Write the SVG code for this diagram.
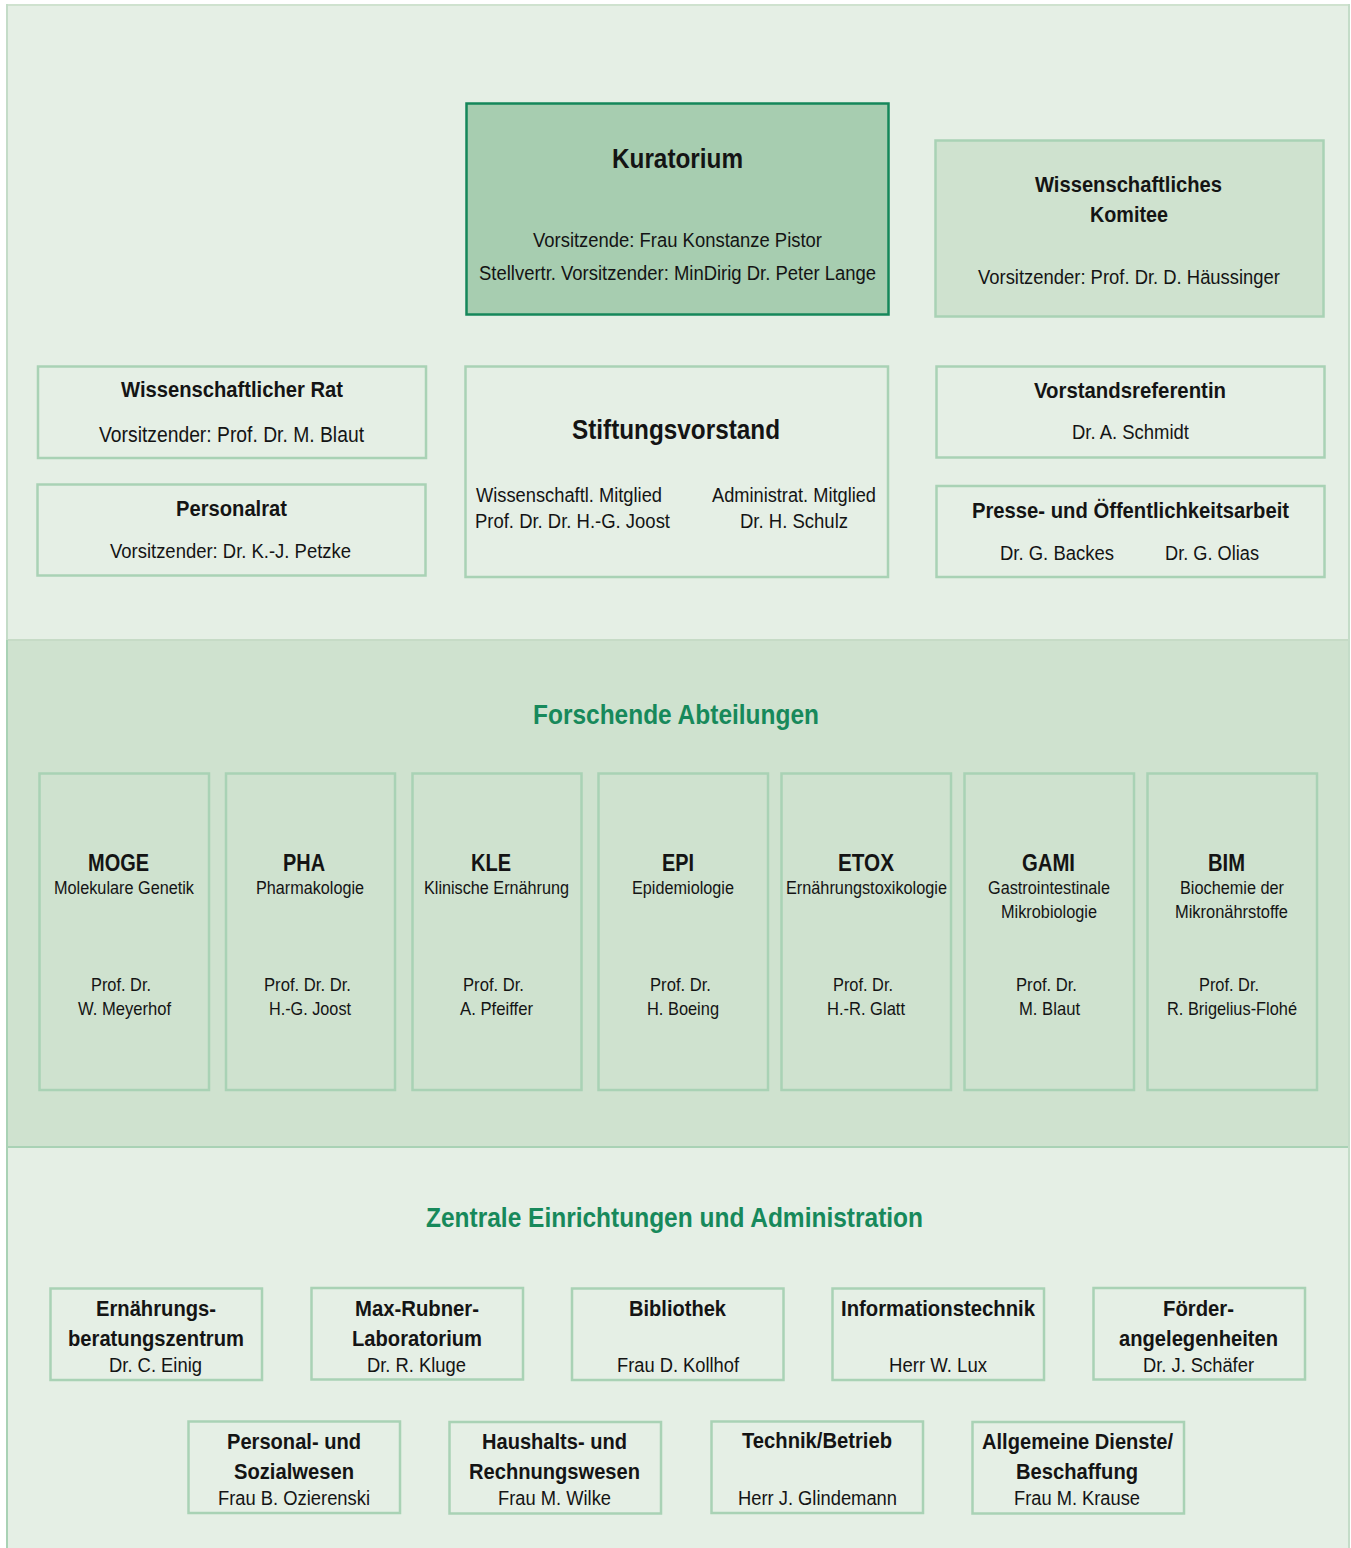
<svg xmlns="http://www.w3.org/2000/svg" width="1351" height="1548" viewBox="0 0 1351 1548">
<style>
  text { font-family: "Liberation Sans", Arial, sans-serif; fill: #141414; }
  .b { font-weight: bold; }
  .g { fill: #17895b; font-weight: bold; }
  .box { fill: none; stroke: #a9d2b5; stroke-width: 2.5; }
  .rbox { fill: none; stroke: #a9d2b5; stroke-width: 2.5; }
</style>
<rect x="0" y="0" width="1351" height="1548" fill="#ffffff"/>
<!-- sections -->
<rect x="6" y="4" width="1344" height="636" fill="#e5efe5"/>
<rect x="6" y="640" width="1344" height="507" fill="#cfe2cf"/>
<rect x="6" y="1147" width="1344" height="401" fill="#e5efe5"/>
<line x1="6" y1="640" x2="1350" y2="640" stroke="#c6dbc6" stroke-width="2"/>
<line x1="6" y1="1147" x2="1350" y2="1147" stroke="#a9d2b5" stroke-width="2"/>
<line x1="6" y1="5" x2="1350" y2="5" stroke="#cfe2cf" stroke-width="2"/>
<line x1="7" y1="4" x2="7" y2="1548" stroke="#c4dcc8" stroke-width="2"/>
<line x1="7" y1="640" x2="7" y2="1548" stroke="#a9d2b5" stroke-width="2"/>
<line x1="1349" y1="4" x2="1349" y2="1548" stroke="#c4dcc8" stroke-width="2"/>

<g id="kuratorium">
  <rect x="466.5" y="103.5" width="422" height="211" fill="#a7cdb0" stroke="#15875a" stroke-width="2.5"/>
  <text class="b" x="612" y="168" font-size="27" textLength="131" lengthAdjust="spacingAndGlyphs">Kuratorium</text>
  <text x="533" y="247" font-size="20" textLength="289" lengthAdjust="spacingAndGlyphs">Vorsitzende: Frau Konstanze Pistor</text>
  <text x="479" y="280" font-size="20" textLength="397" lengthAdjust="spacingAndGlyphs">Stellvertr. Vorsitzender: MinDirig Dr. Peter Lange</text>
</g>

<g id="komitee">
  <rect x="935.5" y="140.5" width="388" height="176" fill="#cfe2cf" stroke="#a9d2b5" stroke-width="2.5"/>
  <text class="b" x="1035" y="192" font-size="22" textLength="187" lengthAdjust="spacingAndGlyphs">Wissenschaftliches</text>
  <text class="b" x="1090" y="222" font-size="22" textLength="78" lengthAdjust="spacingAndGlyphs">Komitee</text>
  <text x="978" y="284" font-size="20" textLength="302" lengthAdjust="spacingAndGlyphs">Vorsitzender: Prof. Dr. D. Häussinger</text>
</g>

<g id="wiss-rat">
  <rect class="box" x="38" y="366.5" width="388" height="91.5"/>
  <text class="b" x="121" y="397" font-size="22" textLength="222" lengthAdjust="spacingAndGlyphs">Wissenschaftlicher Rat</text>
  <text x="99" y="442" font-size="22" textLength="265" lengthAdjust="spacingAndGlyphs">Vorsitzender: Prof. Dr. M. Blaut</text>
</g>

<g id="personalrat">
  <rect class="box" x="37.5" y="484.5" width="388" height="91"/>
  <text class="b" x="176" y="516" font-size="22" textLength="111" lengthAdjust="spacingAndGlyphs">Personalrat</text>
  <text x="110" y="558" font-size="20" textLength="241" lengthAdjust="spacingAndGlyphs">Vorsitzender: Dr. K.-J. Petzke</text>
</g>

<g id="stiftungsvorstand">
  <rect class="box" x="465.5" y="366.5" width="422.5" height="210.5"/>
  <text class="b" x="572" y="439" font-size="27" textLength="208" lengthAdjust="spacingAndGlyphs">Stiftungsvorstand</text>
  <text x="476" y="502" font-size="20" textLength="186" lengthAdjust="spacingAndGlyphs">Wissenschaftl. Mitglied</text>
  <text x="475" y="528" font-size="20" textLength="195" lengthAdjust="spacingAndGlyphs">Prof. Dr. Dr. H.-G. Joost</text>
  <text x="712" y="502" font-size="20" textLength="164" lengthAdjust="spacingAndGlyphs">Administrat. Mitglied</text>
  <text x="740" y="528" font-size="20" textLength="108" lengthAdjust="spacingAndGlyphs">Dr. H. Schulz</text>
</g>

<g id="vorstandsreferentin">
  <rect class="box" x="936.5" y="366.5" width="388" height="91"/>
  <text class="b" x="1034" y="398" font-size="22" textLength="192" lengthAdjust="spacingAndGlyphs">Vorstandsreferentin</text>
  <text x="1072" y="439" font-size="20" textLength="117" lengthAdjust="spacingAndGlyphs">Dr. A. Schmidt</text>
</g>

<g id="presse">
  <rect class="box" x="936.5" y="486" width="388" height="91"/>
  <text class="b" x="972" y="518" font-size="22" textLength="317" lengthAdjust="spacingAndGlyphs">Presse- und Öffentlichkeitsarbeit</text>
  <text x="1000" y="560" font-size="20" textLength="114" lengthAdjust="spacingAndGlyphs">Dr. G. Backes</text>
  <text x="1165" y="560" font-size="20" textLength="94" lengthAdjust="spacingAndGlyphs">Dr. G. Olias</text>
</g>

<g id="forschende-abteilungen">
  <text class="g" x="533" y="724" font-size="27" textLength="286" lengthAdjust="spacingAndGlyphs">Forschende Abteilungen</text>
</g>

<g id="moge">
  <rect class="rbox" x="39.5" y="773.5" width="169.5" height="316.5"/>
  <text class="b" x="88" y="871" font-size="23" textLength="61" lengthAdjust="spacingAndGlyphs">MOGE</text>
  <text x="54" y="894" font-size="17.5" textLength="140" lengthAdjust="spacingAndGlyphs">Molekulare Genetik</text>
  <text x="91" y="991" font-size="18.5" textLength="60" lengthAdjust="spacingAndGlyphs">Prof. Dr.</text>
  <text x="78" y="1015" font-size="18.5" textLength="93" lengthAdjust="spacingAndGlyphs">W. Meyerhof</text>
</g>
<g id="pha">
  <rect class="rbox" x="226" y="773.5" width="169" height="316.5"/>
  <text class="b" x="283" y="871" font-size="23" textLength="42" lengthAdjust="spacingAndGlyphs">PHA</text>
  <text x="256" y="894" font-size="17.5" textLength="108" lengthAdjust="spacingAndGlyphs">Pharmakologie</text>
  <text x="264" y="991" font-size="18.5" textLength="87" lengthAdjust="spacingAndGlyphs">Prof. Dr. Dr.</text>
  <text x="269" y="1015" font-size="18.5" textLength="82" lengthAdjust="spacingAndGlyphs">H.-G. Joost</text>
</g>
<g id="kle">
  <rect class="rbox" x="412.5" y="773.5" width="169" height="316.5"/>
  <text class="b" x="471" y="871" font-size="23" textLength="40" lengthAdjust="spacingAndGlyphs">KLE</text>
  <text x="424" y="894" font-size="17.5" textLength="145" lengthAdjust="spacingAndGlyphs">Klinische Ernährung</text>
  <text x="463" y="991" font-size="18.5" textLength="61" lengthAdjust="spacingAndGlyphs">Prof. Dr.</text>
  <text x="460" y="1015" font-size="18.5" textLength="73" lengthAdjust="spacingAndGlyphs">A. Pfeiffer</text>
</g>
<g id="epi">
  <rect class="rbox" x="598.5" y="773.5" width="169.5" height="316.5"/>
  <text class="b" x="662" y="871" font-size="23" textLength="32" lengthAdjust="spacingAndGlyphs">EPI</text>
  <text x="632" y="894" font-size="17.5" textLength="102" lengthAdjust="spacingAndGlyphs">Epidemiologie</text>
  <text x="650" y="991" font-size="18.5" textLength="61" lengthAdjust="spacingAndGlyphs">Prof. Dr.</text>
  <text x="647" y="1015" font-size="18.5" textLength="72" lengthAdjust="spacingAndGlyphs">H. Boeing</text>
</g>
<g id="etox">
  <rect class="rbox" x="781.5" y="773.5" width="169.5" height="316.5"/>
  <text class="b" x="838" y="871" font-size="23" textLength="56" lengthAdjust="spacingAndGlyphs">ETOX</text>
  <text x="786" y="894" font-size="17.5" textLength="161" lengthAdjust="spacingAndGlyphs">Ernährungstoxikologie</text>
  <text x="833" y="991" font-size="18.5" textLength="60" lengthAdjust="spacingAndGlyphs">Prof. Dr.</text>
  <text x="827" y="1015" font-size="18.5" textLength="78" lengthAdjust="spacingAndGlyphs">H.-R. Glatt</text>
</g>
<g id="gami">
  <rect class="rbox" x="964.5" y="773.5" width="169.5" height="316.5"/>
  <text class="b" x="1022" y="871" font-size="23" textLength="53" lengthAdjust="spacingAndGlyphs">GAMI</text>
  <text x="988" y="894" font-size="17.5" textLength="122" lengthAdjust="spacingAndGlyphs">Gastrointestinale</text>
  <text x="1001" y="918" font-size="17.5" textLength="96" lengthAdjust="spacingAndGlyphs">Mikrobiologie</text>
  <text x="1016" y="991" font-size="18.5" textLength="61" lengthAdjust="spacingAndGlyphs">Prof. Dr.</text>
  <text x="1019" y="1015" font-size="18.5" textLength="61" lengthAdjust="spacingAndGlyphs">M. Blaut</text>
</g>
<g id="bim">
  <rect class="rbox" x="1147.5" y="773.5" width="169.5" height="316.5"/>
  <text class="b" x="1208" y="871" font-size="23" textLength="37" lengthAdjust="spacingAndGlyphs">BIM</text>
  <text x="1180" y="894" font-size="17.5" textLength="104" lengthAdjust="spacingAndGlyphs">Biochemie der</text>
  <text x="1175" y="918" font-size="17.5" textLength="113" lengthAdjust="spacingAndGlyphs">Mikronährstoffe</text>
  <text x="1199" y="991" font-size="18.5" textLength="60" lengthAdjust="spacingAndGlyphs">Prof. Dr.</text>
  <text x="1167" y="1015" font-size="18.5" textLength="130" lengthAdjust="spacingAndGlyphs">R. Brigelius-Flohé</text>
</g>

<g id="zentrale-einrichtungen">
  <text class="g" x="426" y="1227" font-size="27" textLength="497" lengthAdjust="spacingAndGlyphs">Zentrale Einrichtungen und Administration</text>
</g>

<g id="ernaehrungsberatung">
  <rect class="box" x="50.5" y="1288.5" width="211.5" height="91.5"/>
  <text class="b" x="96" y="1316" font-size="22" textLength="120" lengthAdjust="spacingAndGlyphs">Ernährungs-</text>
  <text class="b" x="68" y="1346" font-size="22" textLength="176" lengthAdjust="spacingAndGlyphs">beratungszentrum</text>
  <text x="109" y="1372" font-size="20" textLength="93" lengthAdjust="spacingAndGlyphs">Dr. C. Einig</text>
</g>
<g id="max-rubner">
  <rect class="box" x="311.5" y="1288" width="211.5" height="91.5"/>
  <text class="b" x="355" y="1316" font-size="22" textLength="124" lengthAdjust="spacingAndGlyphs">Max-Rubner-</text>
  <text class="b" x="352" y="1346" font-size="22" textLength="130" lengthAdjust="spacingAndGlyphs">Laboratorium</text>
  <text x="367" y="1372" font-size="20" textLength="99" lengthAdjust="spacingAndGlyphs">Dr. R. Kluge</text>
</g>
<g id="bibliothek">
  <rect class="box" x="572" y="1288.5" width="211.5" height="91.5"/>
  <text class="b" x="629" y="1316" font-size="22" textLength="97" lengthAdjust="spacingAndGlyphs">Bibliothek</text>
  <text x="617" y="1372" font-size="20" textLength="122" lengthAdjust="spacingAndGlyphs">Frau D. Kollhof</text>
</g>
<g id="informationstechnik">
  <rect class="box" x="832.5" y="1288.5" width="211.5" height="91.5"/>
  <text class="b" x="841" y="1316" font-size="22" textLength="194" lengthAdjust="spacingAndGlyphs">Informationstechnik</text>
  <text x="889" y="1372" font-size="20" textLength="98" lengthAdjust="spacingAndGlyphs">Herr W. Lux</text>
</g>
<g id="foerderangelegenheiten">
  <rect class="box" x="1093.5" y="1288" width="211.5" height="91.5"/>
  <text class="b" x="1163" y="1316" font-size="22" textLength="71" lengthAdjust="spacingAndGlyphs">Förder-</text>
  <text class="b" x="1119" y="1346" font-size="22" textLength="159" lengthAdjust="spacingAndGlyphs">angelegenheiten</text>
  <text x="1143" y="1372" font-size="20" textLength="111" lengthAdjust="spacingAndGlyphs">Dr. J. Schäfer</text>
</g>
<g id="personalwesen">
  <rect class="box" x="188.5" y="1421.5" width="211.5" height="91.5"/>
  <text class="b" x="227" y="1449" font-size="22" textLength="134" lengthAdjust="spacingAndGlyphs">Personal- und</text>
  <text class="b" x="234" y="1479" font-size="22" textLength="120" lengthAdjust="spacingAndGlyphs">Sozialwesen</text>
  <text x="218" y="1505" font-size="20" textLength="152" lengthAdjust="spacingAndGlyphs">Frau B. Ozierenski</text>
</g>
<g id="haushalt">
  <rect class="box" x="449.5" y="1422" width="211.5" height="91.5"/>
  <text class="b" x="482" y="1449" font-size="22" textLength="145" lengthAdjust="spacingAndGlyphs">Haushalts- und</text>
  <text class="b" x="469" y="1479" font-size="22" textLength="171" lengthAdjust="spacingAndGlyphs">Rechnungswesen</text>
  <text x="498" y="1505" font-size="20" textLength="113" lengthAdjust="spacingAndGlyphs">Frau M. Wilke</text>
</g>
<g id="technik">
  <rect class="box" x="711.5" y="1421.5" width="211.5" height="91.5"/>
  <text class="b" x="742" y="1448" font-size="22" textLength="150" lengthAdjust="spacingAndGlyphs">Technik/Betrieb</text>
  <text x="738" y="1505" font-size="20" textLength="159" lengthAdjust="spacingAndGlyphs">Herr J. Glindemann</text>
</g>
<g id="allgemeine-dienste">
  <rect class="box" x="972.5" y="1422" width="211.5" height="91.5"/>
  <text class="b" x="982" y="1449" font-size="22" textLength="191" lengthAdjust="spacingAndGlyphs">Allgemeine Dienste/</text>
  <text class="b" x="1016" y="1479" font-size="22" textLength="122" lengthAdjust="spacingAndGlyphs">Beschaffung</text>
  <text x="1014" y="1505" font-size="20" textLength="126" lengthAdjust="spacingAndGlyphs">Frau M. Krause</text>
</g>

<g id="connectors"></g>
</svg>
